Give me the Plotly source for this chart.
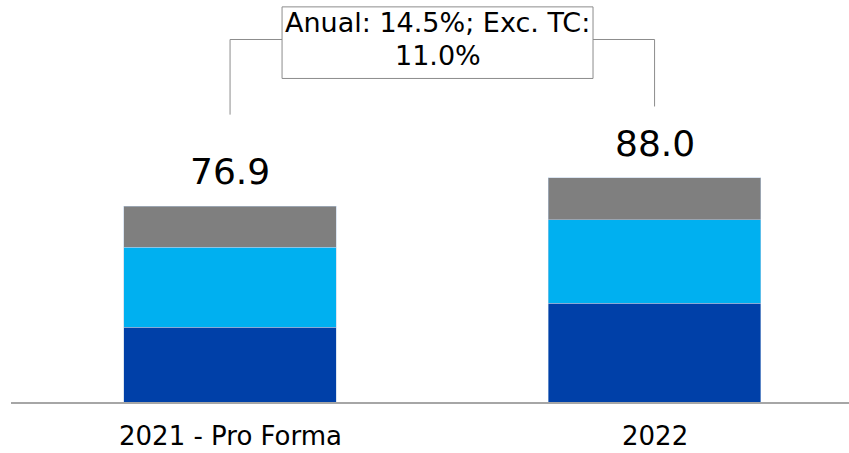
import plotly.graph_objects as go

# Datos
categorias = ["2021 - Pro Forma", "2022"]
seg_inferior = [29.4, 38.8]
seg_medio = [31.3, 32.7]
seg_superior = [16.2, 16.5]
totales = [76.9, 88.0]
lineas_crecimiento = ["Anual: 14.5%; Exc. TC:", "11.0%"]

FUENTE = "DejaVu Sans"

fig = go.Figure()

colores = ["#0040A8", "#00B0F0", "#7F7F7F"]
for valores, color in zip([seg_inferior, seg_medio, seg_superior], colores):
    fig.add_trace(go.Bar(
        x=[0, 1],
        y=valores,
        width=0.5,
        marker=dict(color=color, line=dict(color="#B8CCE4", width=0.5)),
        showlegend=False,
        hoverinfo="skip"
    ))

# Totales sobre las barras
for i, total in enumerate(totales):
    fig.add_annotation(
        x=i, y=total, text=f"{total:.1f}",
        showarrow=False, yanchor="bottom", yshift=12,
        font=dict(family=FUENTE, size=36, color="black")
    )

# Etiquetas de categoría (como anotaciones bajo el eje)
for i, cat in enumerate(categorias):
    fig.add_annotation(
        x=i, y=0, yref="y", text=cat,
        showarrow=False, yanchor="middle", yshift=-34, borderpad=0,
        font=dict(family=FUENTE, size=26, color="black")
    )

# Corchete de crecimiento
y_linea = 142.3
gris = "#8C8C8C"
fig.add_shape(type="line", x0=0, x1=0, y0=112.8, y1=y_linea, line=dict(color=gris, width=1))
fig.add_shape(type="line", x0=0, x1=0.1225, y0=y_linea, y1=y_linea, line=dict(color=gris, width=1))
fig.add_shape(type="line", x0=1, x1=1, y0=116, y1=y_linea, line=dict(color=gris, width=1))
fig.add_shape(type="line", x0=0.855, x1=1, y0=y_linea, y1=y_linea, line=dict(color=gris, width=1))
fig.add_shape(type="rect", x0=0.1225, x1=0.855, y0=127, y1=155.1,
              line=dict(color=gris, width=1), fillcolor="white")
xc = (0.1225 + 0.855) / 2
for texto, yy in zip(lineas_crecimiento, [148.8, 136.2]):
    fig.add_annotation(
        x=xc, y=yy, text=texto, showarrow=False, yanchor="middle",
        font=dict(family=FUENTE, size=27, color="black")
    )

fig.update_layout(
    barmode="stack",
    width=849, height=453,
    margin=dict(l=11, r=0, t=0, b=51, autoexpand=False),
    plot_bgcolor="white",
    paper_bgcolor="white",
    xaxis=dict(
        range=[-0.516, 1.458],
        showticklabels=False, automargin=False,
        showline=True, linecolor="#A6A6A6", linewidth=1.5,
        showgrid=False, zeroline=False, ticks=""
    ),
    yaxis=dict(range=[0, 157.8], visible=False, automargin=False)
)

# quitar el margen por defecto del body para que la figura empiece en (0, 0)
fig.write_html("out.html", config={"displayModeBar": False},
               post_script="document.body.style.margin='0';")
